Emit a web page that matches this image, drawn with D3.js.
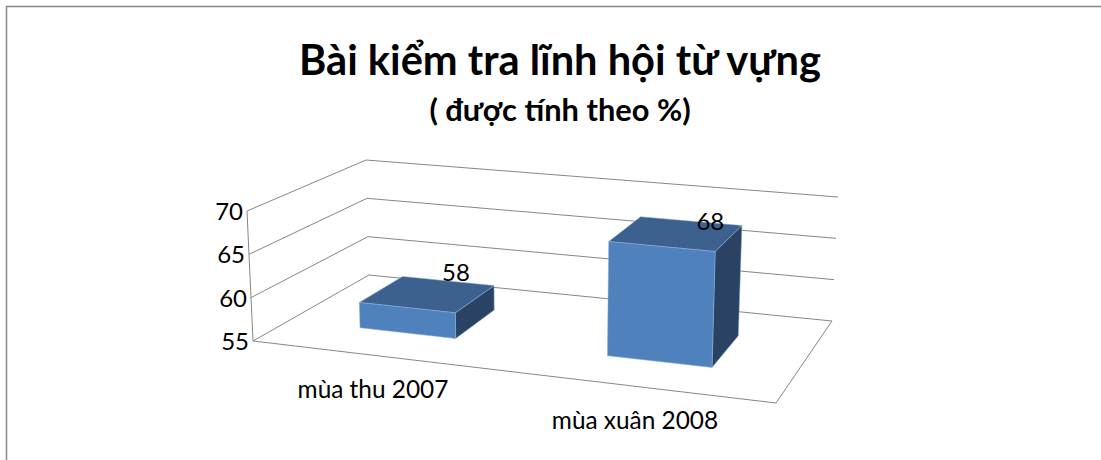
<!DOCTYPE html>
<html>
<head>
<meta charset="utf-8">
<script src="https://cdn.jsdelivr.net/npm/d3@7"></script>
<style>
  html, body { margin: 0; padding: 0; background: #fff; }
  svg { display: block; }
  text { font-family: Lato, "Open Sans", "Noto Sans", sans-serif; fill: #000; }
</style>
</head>
<body>
<div id="my_dataviz"></div>
<script>
// data
var categories = ["mùa thu 2007", "mùa xuân 2008"];
var values = [58, 68];
var yTicks = [55, 60, 65, 70];
var titleText = "Bài kiểm tra lĩnh hội từ vựng";
var subtitleText = "( được tính theo %)";

var cfg = { width: 1101, height: 460 };

var svg = d3.select("#my_dataviz").append("svg")
  .attr("width", cfg.width)
  .attr("height", cfg.height);

// frame of the picture, only top and left show
svg.append("path")
  .attr("d", "M6.5,460V6.5H1101")
  .attr("fill", "none")
  .attr("stroke", "#868686")
  .attr("stroke-width", 1.5);

// floor corners of the 3d box and how far 55->70 lifts each one
var corners = {
  fl: { x: 253, y: 341, dx: -6, dy: -130 },
  fr: { x: 776, y: 403, dx: 5, dy: -141 },
  bl: { x: 369, y: 275, dx: -3, dy: -115 },
  br: { x: 832, y: 321, dx: 6, dy: -124 }
};

// category -> position along the floor (0..1)
var x = d3.scaleBand()
  .domain(categories)
  .range([0, 0.985])
  .paddingInner(0.6)
  .paddingOuter(0.3);

// the far bar looks wider, so bend the floor a little
var perspective = d3.scalePow().exponent(1.08).domain([0, 1]).range([0.012, 1.012]);

// value -> share of the box height
var y = d3.scaleLinear().domain([55, 70]).range([0, 1]);

// depth of the bars inside the box
var depth = { front: 0.32, back: 0.72 };

function project(u, v, val) {
  var h = y(val);
  function mix(key) {
    return (1 - v) * ((1 - u) * corners.fl[key] + u * corners.fr[key]) +
      v * ((1 - u) * corners.bl[key] + u * corners.br[key]);
  }
  return [mix("x") + h * mix("dx"), mix("y") + h * mix("dy")];
}

var line = d3.line();
var gridColor = "#868686";

// gridlines on the side wall and the back wall
var grid = svg.append("g").attr("fill", "none").attr("stroke", gridColor).attr("stroke-width", 1);
grid.selectAll("path")
  .data(yTicks)
  .enter()
  .append("path")
  .attr("d", function (d) { return line([project(0, 0, d), project(0, 1, d), project(1, 1, d)]); });

// floor outline and the value axis
grid.append("path")
  .attr("d", line([project(0, 0, 55), project(1, 0, 55), project(1, 1, 55)]));
grid.append("path")
  .attr("d", line([project(0, 0, 55), project(0, 0, 70)]));

// tick labels
svg.append("g")
  .selectAll("text")
  .data(yTicks)
  .enter()
  .append("text")
  .attr("x", function (d) { return project(0, 0, d)[0] - 4; })
  .attr("y", function (d) { return project(0, 0, d)[1] + 9; })
  .attr("text-anchor", "end")
  .attr("font-size", 24)
  .text(function (d) { return d; });

// bars, faces drawn back to front
var bars = svg.append("g")
  .selectAll("g")
  .data(categories)
  .enter()
  .append("g");

function face(cat, i, which) {
  var u0 = perspective(x(cat)), u1 = perspective(x(cat) + x.bandwidth());
  var f = depth.front, b = depth.back, top = values[i];
  if (which === "top") return [[u0, f, top], [u0, b, top], [u1, b, top], [u1, f, top]];
  if (which === "side") return [[u1, f, top], [u1, b, top], [u1, b, 55], [u1, f, 55]];
  return [[u0, f, top], [u1, f, top], [u1, f, 55], [u0, f, 55]];
}

var faces = [
  { name: "side", fill: "#2a4263" },
  { name: "top", fill: "#3c618f" },
  { name: "front", fill: "#4f81bd" }
];

faces.forEach(function (fc) {
  bars.append("path")
    .attr("d", function (d, i) {
      return line(face(d, i, fc.name).map(function (p) { return project(p[0], p[1], p[2]); })) + "Z";
    })
    .attr("fill", fc.fill)
    .attr("stroke", "#8fb0d6")
    .attr("stroke-width", 0.5);
});

// value labels, Excel leaves them near the back of the top face
var labelNudge = [[-10, -2], [-1, 7]];
function labelAnchor(d, i) {
  return project(perspective(x(categories[i]) + x.bandwidth() * 0.7), depth.back, d);
}
svg.append("g")
  .selectAll("text")
  .data(values)
  .enter()
  .append("text")
  .attr("x", function (d, i) { return labelAnchor(d, i)[0] + labelNudge[i][0]; })
  .attr("y", function (d, i) { return labelAnchor(d, i)[1] + labelNudge[i][1]; })
  .attr("text-anchor", "middle")
  .attr("font-size", 24)
  .text(function (d) { return d; });

// category labels
var catY = [398, 429];
var catX = [373, 635];
svg.append("g")
  .selectAll("text")
  .data(categories)
  .enter()
  .append("text")
  .attr("x", function (d, i) { return catX[i]; })
  .attr("y", function (d, i) { return catY[i]; })
  .attr("text-anchor", "middle")
  .attr("font-size", 24.4)
  .text(function (d) { return d; });

// titles
svg.append("text")
  .attr("x", 560).attr("y", 75)
  .attr("text-anchor", "middle")
  .attr("font-size", 41.6)
  .attr("font-weight", "bold")
  .text(titleText);
svg.append("text")
  .attr("x", 560).attr("y", 121)
  .attr("text-anchor", "middle")
  .attr("font-size", 30.8)
  .attr("font-weight", "bold")
  .text(subtitleText);
</script>
</body>
</html>
